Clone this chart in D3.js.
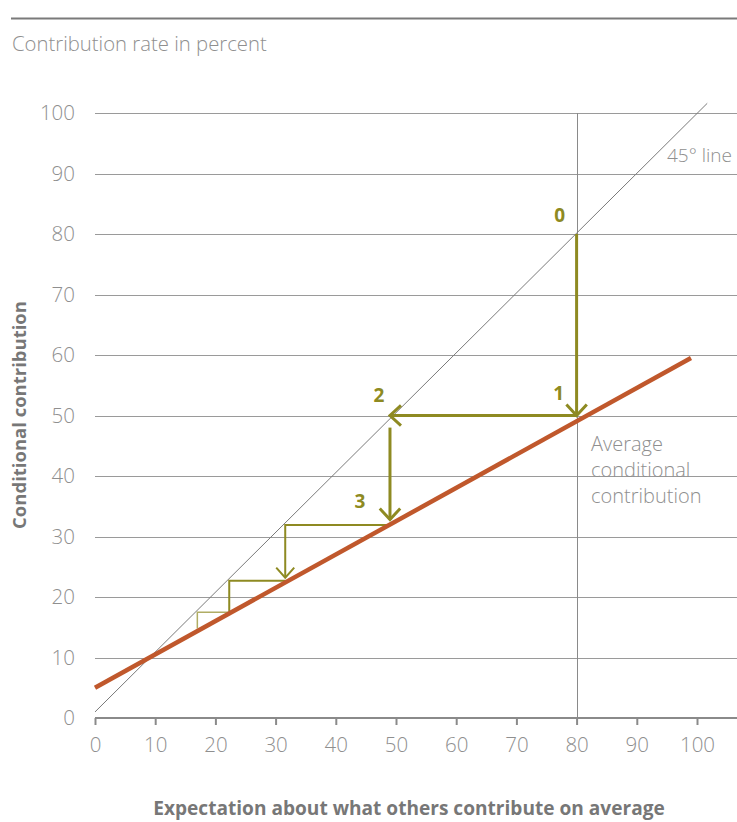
<!DOCTYPE html>
<html><head><meta charset="utf-8">
<script src="https://cdn.jsdelivr.net/npm/d3@7"></script>
<style>
body{margin:0;background:#fff;}
svg{display:block;font-family:"Open Sans",sans-serif;}
</style></head>
<body>
<svg id="c" width="737" height="822"></svg>
<script>
// ---- data ----
const xTicks = [0,10,20,30,40,50,60,70,80,90,100];
const yTicks = [0,10,20,30,40,50,60,70,80,90,100];
const identityLine = [[0,1],[101.7,101.6]];           // 45° line
const avgLine = [[0,5],[99,59.5]];                      // average conditional contribution
const thickArrows = [                                   // main adjustment steps
  [[80,80],[80,50]],
  [[80,50],[49,50]],
  [[49,48],[49,32.8]]
];
const thinSteps = [                                     // later steps
  {pts:[[49,31.9],[31.6,31.9],[31.6,23.2]], arrow:true, w:2, op:1},
  {pts:[[31.6,22.7],[22.3,22.7],[22.3,17.6]], arrow:false, w:2, op:1},
  {pts:[[22.3,17.5],[17,17.5],[17,14.8]], arrow:false, w:1.5, op:0.7}
];
const stepLabels = [
  {t:"0", x:80, y:80, dx:-17, dy:-12},
  {t:"1", x:80, y:50, dx:-18, dy:-16},
  {t:"2", x:49, y:50, dx:-11, dy:-14},
  {t:"3", x:49, y:32, dx:-30, dy:-16}
];
const refX = 80;

// ---- layout ----
const svg = d3.select("#c");
const x = d3.scaleLinear().domain([0,100]).range([95,697]);
const y = d3.scaleLinear().domain([0,100]).range([718,113]);
const olive = "#8e8a22", red = "#c0582c", txt = "#8f8f8f";

// fit text to measured width
function fit(sel, w){ const n=sel.node(); const l=n.getComputedTextLength(); const fs=+sel.attr("font-size"); sel.attr("font-size", fs*w/l); return sel; }

// top rule
svg.append("line").attr("x1",11).attr("x2",737).attr("y1",18.5).attr("y2",18.5)
  .attr("stroke","#7a7a7a").attr("stroke-width",2);
fit(svg.append("text").attr("x",12).attr("y",51).text("Contribution rate in percent")
  .attr("font-size",17).attr("font-weight",300).attr("fill",txt), 255);

// horizontal gridlines
svg.append("g").selectAll("line").data(yTicks.filter(d=>d>0)).join("line")
  .attr("x1",x(0)).attr("x2",737)
  .attr("y1",d=>Math.round(y(d))+0.5).attr("y2",d=>Math.round(y(d))+0.5)
  .attr("stroke","#9a9a9a").attr("stroke-width",1);

// y tick labels
svg.append("g").selectAll("text").data(yTicks).join("text")
  .attr("x",75).attr("y",d=>y(d)+7).attr("text-anchor","end")
  .attr("font-size",20.5).attr("font-weight",300).attr("fill",txt).text(d=>d);

// vertical reference line at 80
svg.append("line").attr("x1",Math.round(x(refX))+0.5).attr("x2",Math.round(x(refX))+0.5)
  .attr("y1",y(100)).attr("y2",y(0)).attr("stroke","#8a8a8a").attr("stroke-width",1);

// x axis
const xAxis = d3.axisBottom(x).tickValues(xTicks).tickSize(7).tickPadding(12);
const gx = svg.append("g").attr("transform",`translate(0,${y(0)})`).call(xAxis);
gx.select(".domain").remove();
gx.append("line").attr("x1",x(0)).attr("x2",737).attr("y1",0).attr("y2",0)
  .attr("stroke","#8a8a8a").attr("stroke-width",2);
gx.selectAll(".tick line").attr("stroke","#8a8a8a").attr("stroke-width",2);
gx.selectAll(".tick text").attr("font-size",20.5).attr("font-weight",300)
  .attr("fill",txt).attr("font-family","'Open Sans',sans-serif");

// 45° line
const line = d3.line().x(d=>x(d[0])).y(d=>y(d[1]));
svg.append("path").attr("d",line(identityLine)).attr("fill","none")
  .attr("stroke","#7a7a7a").attr("stroke-width",1);
svg.append("text").attr("x",667).attr("y",162).text("45° line")
  .attr("font-size",19).attr("font-weight",300).attr("fill",txt);

// thin steps
thinSteps.forEach(s=>{
  svg.append("path").attr("d",line(s.pts)).attr("fill","none")
    .attr("stroke",olive).attr("stroke-width",s.w).attr("opacity",s.op);
  if(s.arrow){
    const e = s.pts[s.pts.length-1];
    const px=x(e[0]), py=y(e[1]);
    svg.append("path").attr("d",`M${px-9},${py-10}L${px},${py}L${px+9},${py-10}`)
      .attr("fill","none").attr("stroke",olive).attr("stroke-width",2);
  }
});

// avg line
svg.append("path").attr("d",line(avgLine)).attr("fill","none")
  .attr("stroke",red).attr("stroke-width",4.5);

// thick arrows
thickArrows.forEach(a=>{
  const [p0,p1]=a;
  const x0=x(p0[0]),y0=y(p0[1]),x1=x(p1[0]),y1=y(p1[1]);
  svg.append("line").attr("x1",x0).attr("y1",y0).attr("x2",x1).attr("y2",y1)
    .attr("stroke",olive).attr("stroke-width",3);
  const ang=Math.atan2(y1-y0,x1-x0), L=15, sp=Math.PI/4.2;
  const a1=[x1-L*Math.cos(ang-sp), y1-L*Math.sin(ang-sp)];
  const a2=[x1-L*Math.cos(ang+sp), y1-L*Math.sin(ang+sp)];
  svg.append("path").attr("d",`M${a1}L${x1},${y1}L${a2}`)
    .attr("fill","none").attr("stroke",olive).attr("stroke-width",3);
});

// step labels
svg.append("g").selectAll("text").data(stepLabels).join("text")
  .attr("x",d=>x(d.x)+d.dx).attr("y",d=>y(d.y)+d.dy).attr("text-anchor","middle")
  .attr("font-size",19).attr("font-weight",700).attr("fill",olive).text(d=>d.t);

// avg label
const avgT = svg.append("text").attr("x",591).attr("y",451)
  .attr("font-size",20).attr("font-weight",300).attr("fill",txt);
["Average","conditional","contribution"].forEach((t,i)=>
  avgT.append("tspan").attr("x",591).attr("dy",i?26:0).text(t));

// axis titles
fit(svg.append("text").attr("transform","translate(26,415) rotate(-90)")
  .attr("text-anchor","middle").attr("font-size",16.5).attr("font-weight",700)
  .attr("fill","#777").text("Conditional contribution"), 228);
fit(svg.append("text").attr("x",409).attr("y",815).attr("text-anchor","middle")
  .attr("font-size",17.5).attr("font-weight",700).attr("fill","#777")
  .text("Expectation about what others contribute on average"), 512);
</script>
</body></html>
